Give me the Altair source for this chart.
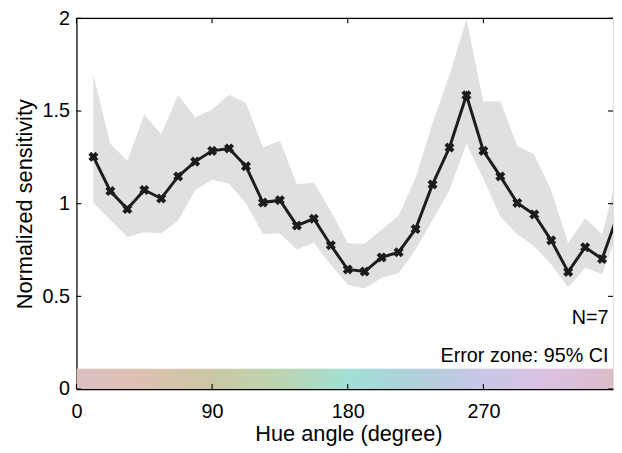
import altair as alt
import pandas as pd

# ---- data ----
hue = [11.25, 22.5, 33.75, 45, 56.25, 67.5, 78.75, 90, 101.25, 112.5, 123.75, 135,
       146.25, 157.5, 168.75, 180, 191.25, 202.5, 213.75, 225, 236.25, 247.5, 258.75,
       270, 281.25, 292.5, 303.75, 315, 326.25, 337.5, 348.75, 360]
mean = [1.253, 1.068, 0.971, 1.074, 1.028, 1.147, 1.227, 1.285, 1.298, 1.202, 1.006,
        1.019, 0.882, 0.919, 0.776, 0.645, 0.634, 0.710, 0.738, 0.863, 1.104, 1.303,
        1.585, 1.285, 1.147, 1.004, 0.942, 0.802, 0.632, 0.765, 0.702, 0.960]
upper = [1.696, 1.324, 1.232, 1.481, 1.374, 1.588, 1.467, 1.508, 1.588, 1.543, 1.303,
         1.339, 1.105, 1.113, 0.960, 0.786, 0.784, 0.859, 0.935, 1.140, 1.436, 1.694,
         1.995, 1.552, 1.552, 1.312, 1.266, 1.072, 0.787, 0.921, 0.835, 1.190]
lower = [1.004, 0.912, 0.820, 0.846, 0.841, 0.908, 1.072, 1.129, 1.108, 1.001, 0.836,
         0.839, 0.752, 0.789, 0.670, 0.563, 0.542, 0.600, 0.625, 0.752, 0.912, 1.072,
         1.324, 1.135, 0.930, 0.835, 0.770, 0.672, 0.548, 0.654, 0.619, 0.858]

x_ticks = [0, 90, 180, 270]
y_ticks = [0, 0.5, 1, 1.5, 2]
bar_hue = [0, 360]
bar_top = 0.11
bar_stops = [(0.0, "#dcbfc3"), (0.125, "#dcc1b0"), (0.25, "#cbc8a4"), (0.375, "#bdd4b0"),
             (0.5, "#a0e0d5"), (0.625, "#b0cfda"), (0.75, "#c8c7e6"), (0.875, "#dcc0e2"),
             (1.0, "#dcbcc6")]
note_n = "N=7"
note_ci = "Error zone: 95% CI"

df = pd.DataFrame({"hue": hue, "mean": mean, "lo": lower, "hi": upper})
xt = pd.DataFrame({"hue": x_ticks})
yt = pd.DataFrame({"mean": y_ticks})
bar = pd.DataFrame({"hue": [bar_hue[0]], "x1": [bar_hue[1]], "lo": [0], "hi": [bar_top]})

W, H = 543.3, 375.3
FONT = "Liberation Sans"
INK = "#1c1c1c"

xscale = alt.Scale(domain=[0, 356], nice=False, zero=False)
yscale = alt.Scale(domain=[0, 2], nice=False, zero=False)

xaxis = alt.Axis(values=x_ticks, ticks=False, tickSize=0, grid=False, domain=True,
                 domainColor="#000", domainWidth=1.6, labelPadding=29,
                 labelBaseline="alphabetic", labelFont=FONT, labelFontSize=20,
                 labelColor="#000", labelFlush=False,
                 title="Hue angle (degree)", titleFont=FONT, titleFontSize=22,
                 titleFontWeight="normal", titleColor="#000", titleX=275.4,
                 titleY=52.3, titleBaseline="alphabetic", titleAlign="center")
yaxis = alt.Axis(values=y_ticks, format="~g", ticks=False, tickSize=0, grid=False,
                 domain=True, domainColor="#000", domainWidth=1.2, labelPadding=7,
                 labelFont=FONT, labelFontSize=20, labelColor="#000",
                 labelFlush=False,
                 title="Normalized sensitivity", titleFont=FONT, titleFontSize=22,
                 titleFontWeight="normal", titleColor="#000", titleX=-45.6,
                 titleY=H / 2, titleBaseline="alphabetic", titleAlign="center",
                 titleAngle=270)


def X(field):
    return alt.X(field, scale=xscale, axis=xaxis, title="Hue angle (degree)")


def Y(field):
    return alt.Y(field, scale=yscale, axis=yaxis, title="Normalized sensitivity")


colorbar = alt.Chart(bar).mark_rect(
    clip=True,
    color=alt.Gradient(gradient="linear",
                       stops=[alt.GradientStop(offset=o, color=c) for o, c in bar_stops],
                       x1=0, x2=1, y1=0, y2=0),
).encode(x=X("hue:Q"), x2="x1:Q", y=Y("lo:Q"), y2="hi:Q")

band = alt.Chart(df).mark_area(color="#e0e0e2", clip=True).encode(
    x=X("hue:Q"), y=Y("lo:Q"), y2="hi:Q")

line = alt.Chart(df).mark_line(color=INK, strokeWidth=3, clip=True).encode(
    x=X("hue:Q"), y=Y("mean:Q"))

pts = alt.Chart(df).mark_point(shape="cross", angle=45, filled=True, size=105,
                               color=INK, opacity=1, clip=True).encode(
    x=X("hue:Q"), y=Y("mean:Q"))

tick_style = dict(color="#000", strokeWidth=1.1)
xt_bottom = alt.Chart(xt).mark_rule(**tick_style).encode(
    x=X("hue:Q"), y=alt.value(H), y2=alt.value(H - 5))
xt_top = alt.Chart(xt).mark_rule(**tick_style).encode(
    x=X("hue:Q"), y=alt.value(0), y2=alt.value(5))
yt_left = alt.Chart(yt).mark_rule(**tick_style).encode(
    y=Y("mean:Q"), x=alt.value(0), x2=alt.value(5))
yt_right = alt.Chart(yt).mark_rule(**tick_style).encode(
    y=Y("mean:Q"), x=alt.value(W - 5), x2=alt.value(W))
top_spine = alt.Chart(pd.DataFrame({"a": [0]})).mark_rule(color="#000", strokeWidth=1.2).encode(
    x=alt.value(0), x2=alt.value(W), y=alt.value(0))

txt_n = alt.Chart(pd.DataFrame({"t": [note_n]})).mark_text(
    font=FONT, fontSize=20, align="right", baseline="alphabetic", color="#000").encode(
    text="t:N", x=alt.value(538.7), y=alt.value(309.3))
txt_ci = alt.Chart(pd.DataFrame({"t": [note_ci]})).mark_text(
    font=FONT, fontSize=20, align="right", baseline="alphabetic", color="#000").encode(
    text="t:N", x=alt.value(538.7), y=alt.value(348.3))

chart = alt.layer(
    colorbar, band, line, pts, xt_bottom, xt_top, yt_left, yt_right, top_spine, txt_n, txt_ci
).properties(
    width=W, height=H,
    autosize=alt.AutoSizeParams(type="none"),
    padding={"left": 69.3, "top": 7.7, "right": 1, "bottom": 62},
).configure_view(stroke=None).configure(background="white")

chart.save("out.html", embed_options={"renderer": "svg", "actions": False})
